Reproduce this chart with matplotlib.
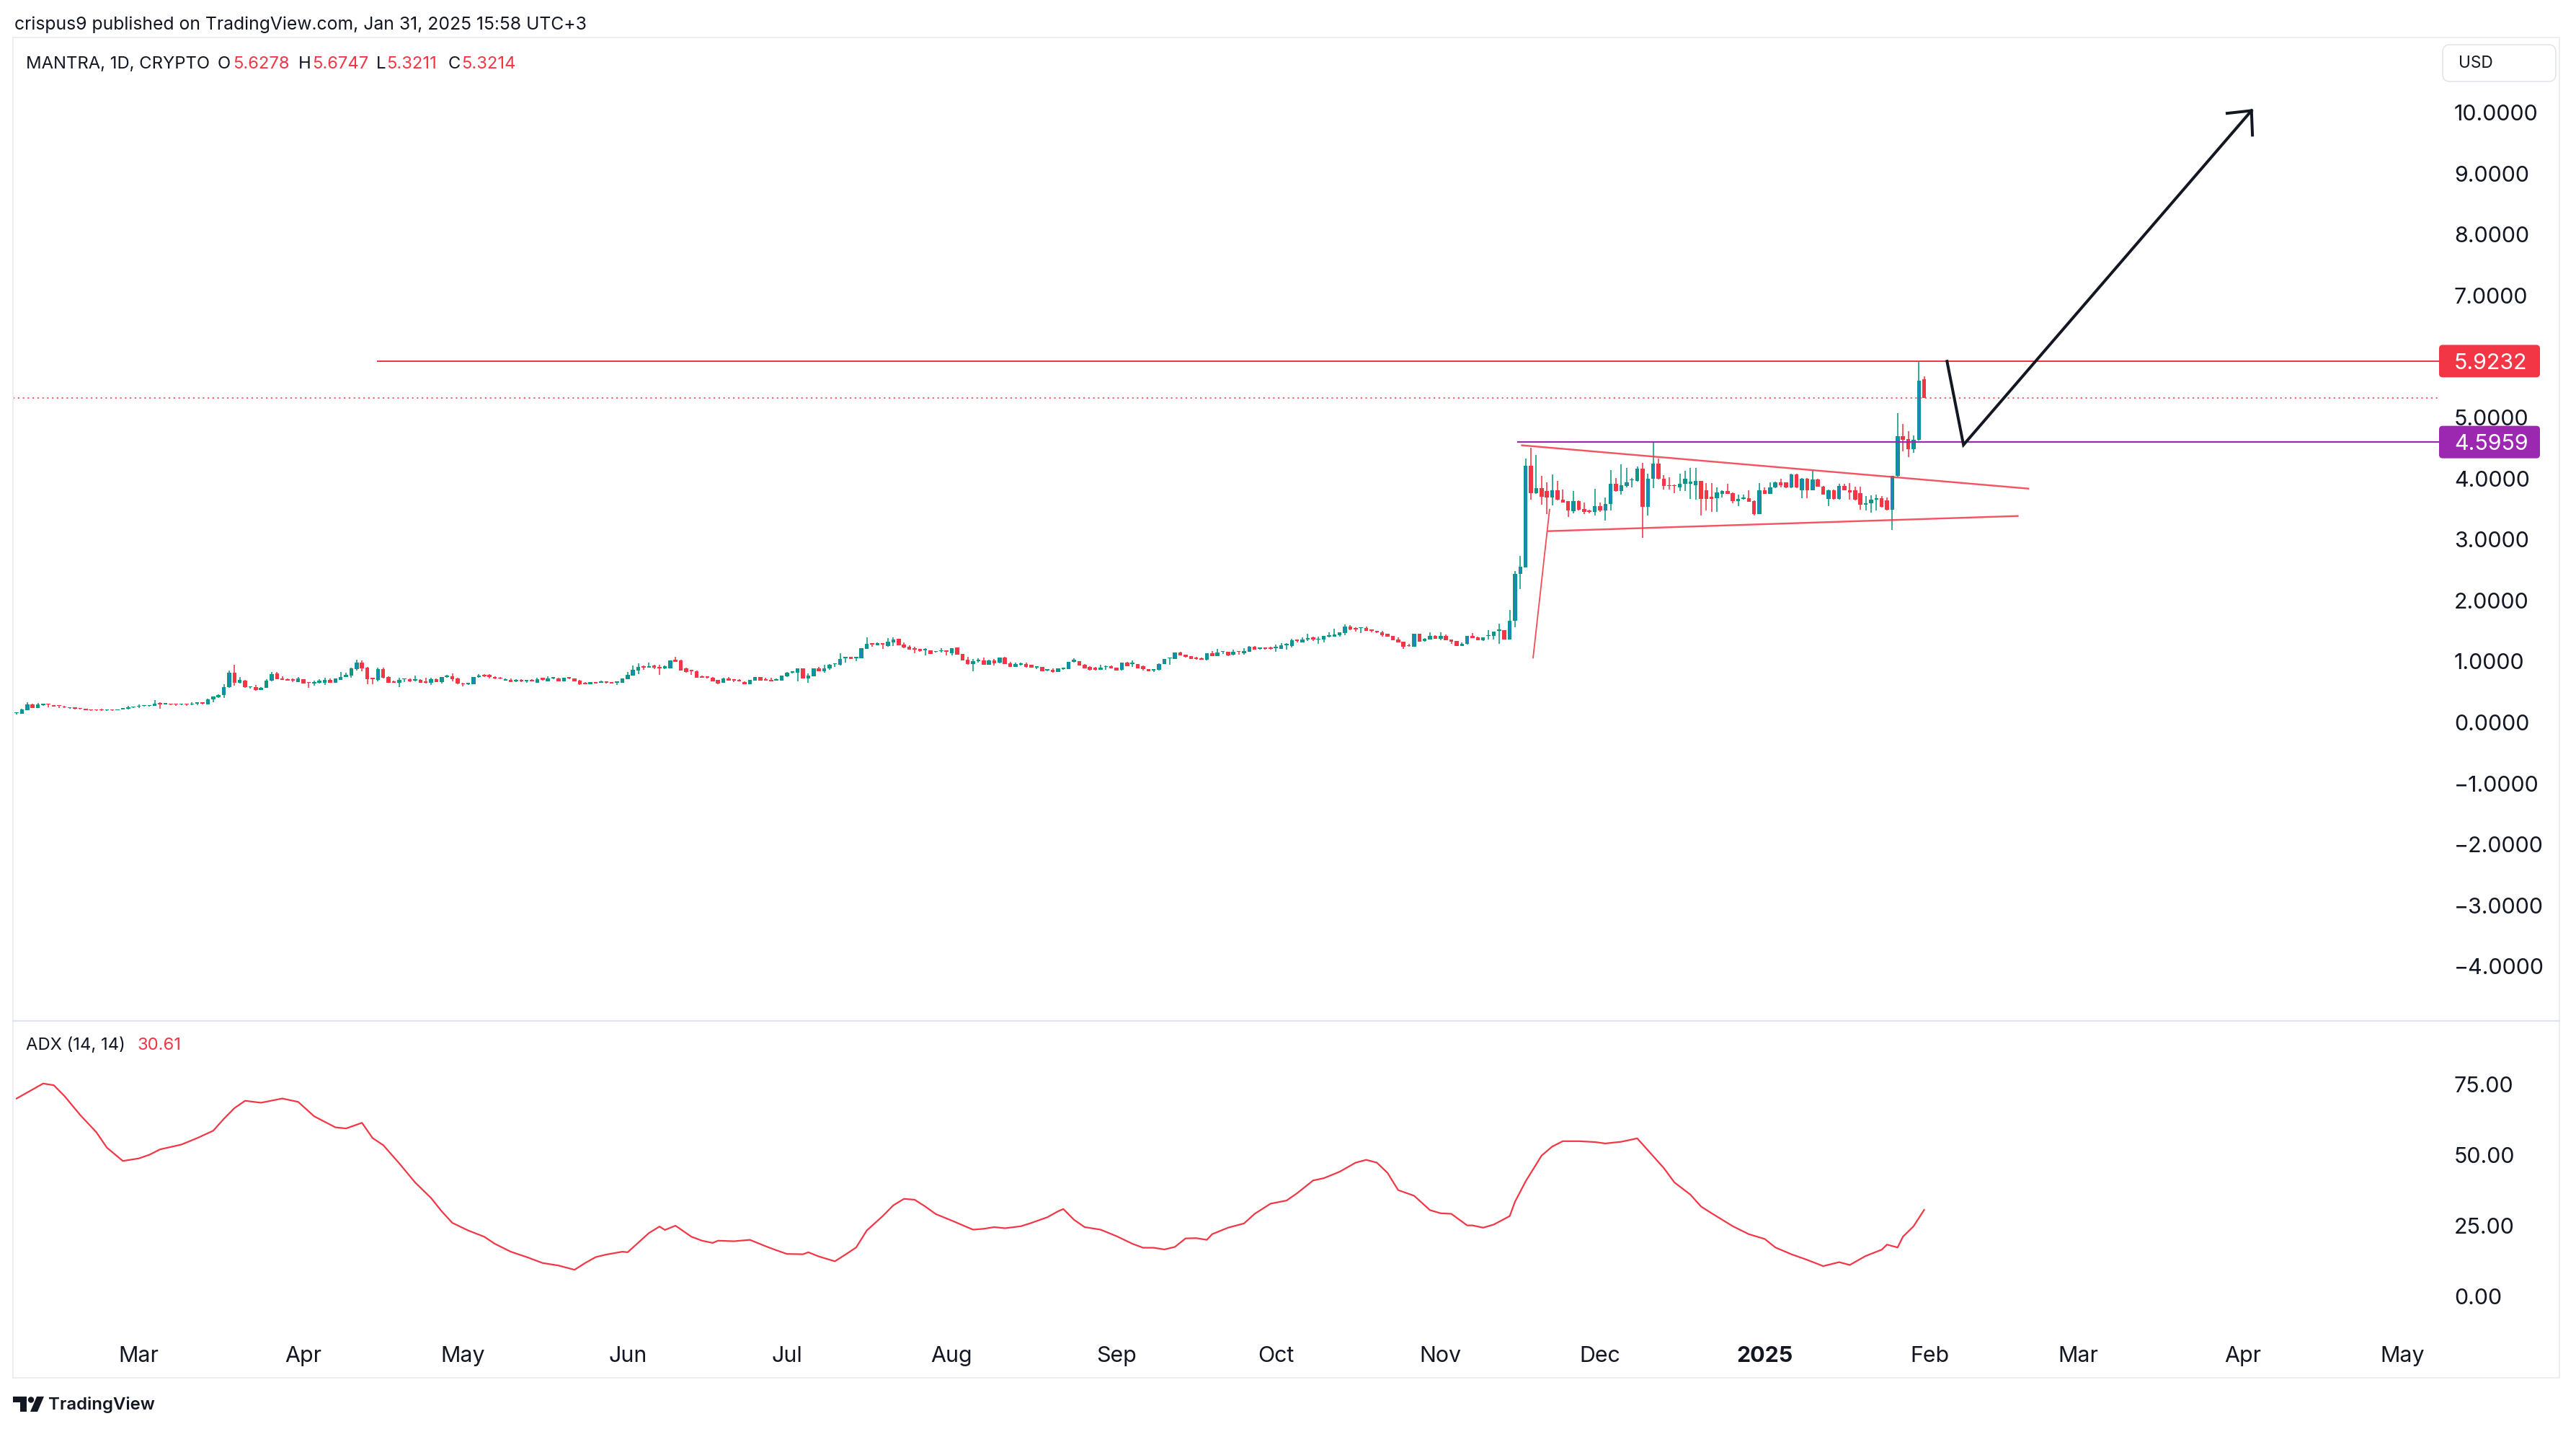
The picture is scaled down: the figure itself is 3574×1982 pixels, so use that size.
import numpy as np
import matplotlib
matplotlib.use("Agg")
import matplotlib.pyplot as plt
from matplotlib.patches import Rectangle, FancyBboxPatch, Circle, Polygon
from matplotlib.transforms import IdentityTransform
from matplotlib.lines import Line2D

plt.rcParams['font.family'] = ['Inter', 'DejaVu Sans']

W, H, DPI = 3574, 1982, 100
PT = 72 / DPI  # points per pixel

UP, DOWN, UP_BODY = '#089981', '#f23645', '#2a7bde'
INK = '#131722'
PURPLE = '#9c27b0'

# ---- daily OHLC, MANTRA 1D, from 2024-02-07 ----
start_date = np.datetime64('2024-02-07')

opens = [
    .150, .146, .200, .295, .240, .285, .300, .280, .280, .265,
    .235, .250, .235, .220, .210, .205, .210, .195, .210, .200,
    .215, .220, .245, .255, .270, .270, .270, .310, .300, .300,
    .300, .290, .300, .290, .305, .325, .300, .380, .410, .450,
    .580, .820, .655, .680, .575, .580, .530, .570, .680, .800,
    .720, .710, .710, .665, .710, .660, .640, .650, .650, .700,
    .655, .700, .745, .770, .880, .980, .900, .730, .700, .870,
    .750, .675, .655, .706, .710, .680, .700, .675, .645, .710,
    .666, .740, .760, .725, .640, .627, .630, .740, .785, .776,
    .750, .737, .690, .700, .678, .700, .674, .700, .654, .730,
    .678, .717, .725, .678, .740, .720, .690, .654, .630, .660,
    .654, .670, .662, .654, .654, .714, .772, .850, .926, .900,
    .930, .910, .883, .887, 1.030, 1.020, .883, .852, .843, .760,
    .753, .737, .694, .650, .720, .706, .700, .666, .627, .690,
    .740, .714, .700, .690, .690, .757, .820, .820, .887, .725,
    .760, .887, .843, .883, .955, .950, 1.050, 1.070, 1.056, 1.056,
    1.206, 1.297, 1.270, 1.285, 1.253, 1.316, 1.370, 1.280, 1.245, 1.214,
    1.200, 1.182, 1.182, 1.155, 1.167, 1.182, 1.139, 1.226, 1.123, 1.025,
    .958, 1.000, 1.017, .946, 1.021, .977, 1.064, .974, .915, .950,
    .962, .942, .899, .907, .850, .863, .832, .871, .879, .993,
    1.005, .950, .907, .899, .863, .907, .926, .899, .860, .985,
    .954, .958, .918, .875, .852, .860, .958, 1.050, 1.044, 1.150,
    1.107, 1.087, 1.068, 1.056, 1.028, 1.135, 1.091, 1.155, 1.155, 1.107,
    1.170, 1.135, 1.162, 1.245, 1.210, 1.226, 1.226, 1.214, 1.210, 1.260,
    1.257, 1.360, 1.316, 1.363, 1.391, 1.355, 1.355, 1.410, 1.410, 1.434,
    1.470, 1.576, 1.552, 1.545, 1.552, 1.521, 1.497, 1.482, 1.450, 1.418,
    1.363, 1.324, 1.269, 1.245, 1.450, 1.332, 1.363, 1.422, 1.371, 1.418,
    1.355, 1.336, 1.257, 1.285, 1.418, 1.399, 1.344, 1.414, 1.414, 1.505,
    1.513, 1.363, 1.663, 2.435, 2.545, 4.210, 3.760, 3.840, 3.790, 3.690,
    3.810, 3.650, 3.625, 3.460, 3.630, 3.500, 3.480, 3.450, 3.550, 3.470,
    3.580, 3.910, 3.790, 3.880, 3.970, 3.960, 4.160, 3.530, 3.990, 4.240,
    4.000, 3.885, 3.890, 3.850, 3.910, 3.910, 3.890, 3.960, 3.810, 3.700,
    3.670, 3.750, 3.790, 3.760, 3.630, 3.660, 3.680, 3.630, 3.420, 3.810,
    3.750, 3.850, 3.940, 3.930, 3.850, 4.070, 3.810, 4.000, 3.810, 3.980,
    3.870, 3.660, 3.810, 3.660, 3.880, 3.810, 3.810, 3.760, 3.570, 3.590,
    3.650, 3.680, 3.640, 3.490, 4.040, 4.690, 4.640, 4.480, 4.630, 5.6278,
]
highs = [
    .170, .225, .330, .310, .320, .310, .305, .285, .285, .270,
    .250, .252, .238, .222, .212, .207, .230, .212, .212, .217,
    .222, .270, .262, .290, .278, .278, .370, .325, .305, .302,
    .302, .302, .302, .330, .335, .328, .390, .430, .460, .630,
    .850, .940, .745, .700, .595, .610, .575, .710, .830, .830,
    .760, .715, .720, .740, .712, .665, .685, .710, .730, .720,
    .720, .830, .810, .900, 1.030, 1.020, .910, .735, .900, .900,
    .755, .680, .733, .722, .725, .765, .705, .733, .733, .725,
    .750, .784, .804, .733, .645, .655, .745, .797, .790, .797,
    .760, .740, .725, .720, .713, .704, .698, .704, .733, .734,
    .757, .744, .730, .737, .744, .724, .694, .658, .666, .664,
    .686, .674, .666, .674, .721, .830, .934, .966, .930, .980,
    .946, .946, .930, 1.017, 1.076, 1.024, .899, .856, .847, .764,
    .757, .741, .698, .729, .745, .710, .704, .670, .702, .744,
    .744, .733, .733, .725, .769, .830, .844, .887, .891, .800,
    .891, .910, .946, .962, .974, 1.135, 1.074, 1.074, 1.080, 1.218,
    1.395, 1.301, 1.310, 1.289, 1.383, 1.395, 1.374, 1.310, 1.269, 1.240,
    1.204, 1.214, 1.186, 1.171, 1.218, 1.186, 1.222, 1.230, 1.127, 1.076,
    1.040, 1.050, 1.064, 1.025, 1.040, 1.064, 1.076, .990, .977, .978,
    .981, .946, .919, .911, .875, .883, .887, .899, .997, 1.056,
    1.009, .954, .922, .915, .946, .934, .930, .903, .985, .989,
    1.017, .962, .934, .879, .875, .966, 1.040, 1.064, 1.147, 1.154,
    1.111, 1.091, 1.080, 1.060, 1.134, 1.170, 1.200, 1.174, 1.159, 1.190,
    1.174, 1.218, 1.249, 1.249, 1.230, 1.230, 1.240, 1.277, 1.300, 1.300,
    1.375, 1.364, 1.395, 1.454, 1.407, 1.403, 1.422, 1.478, 1.537, 1.482,
    1.608, 1.596, 1.556, 1.564, 1.572, 1.525, 1.501, 1.497, 1.454, 1.422,
    1.391, 1.328, 1.288, 1.454, 1.454, 1.383, 1.474, 1.426, 1.474, 1.442,
    1.359, 1.340, 1.308, 1.418, 1.462, 1.403, 1.399, 1.510, 1.494, 1.615,
    1.517, 1.840, 2.478, 2.730, 4.320, 4.500, 4.380, 4.040, 3.940, 4.060,
    3.960, 3.820, 3.630, 3.790, 3.635, 3.610, 3.485, 3.830, 3.610, 3.690,
    4.140, 4.010, 4.230, 4.170, 4.010, 4.190, 4.260, 4.080, 4.610, 4.320,
    4.050, 4.020, 3.895, 4.080, 4.120, 4.170, 4.170, 3.965, 3.920, 3.920,
    3.850, 3.810, 3.910, 3.765, 3.730, 3.730, 3.810, 3.635, 3.920, 3.850,
    3.940, 3.945, 3.990, 3.935, 4.075, 4.075, 4.005, 4.005, 4.120, 4.000,
    3.875, 3.815, 3.815, 3.910, 3.910, 3.920, 3.870, 3.870, 3.710, 3.720,
    3.730, 3.710, 3.690, 4.045, 5.070, 4.890, 4.770, 4.700, 5.9232, 5.6747,
]
lows = [
    .135, .142, .200, .235, .235, .270, .250, .260, .240, .240,
    .220, .215, .218, .195, .193, .193, .192, .193, .193, .198,
    .213, .210, .240, .240, .265, .265, .268, .230, .295, .288,
    .270, .288, .275, .280, .280, .300, .298, .330, .400, .400,
    .570, .600, .640, .570, .550, .525, .528, .565, .675, .705,
    .695, .685, .665, .660, .635, .570, .605, .635, .620, .650,
    .650, .695, .740, .730, .850, .840, .630, .630, .675, .725,
    .650, .650, .583, .666, .662, .675, .645, .640, .620, .660,
    .643, .735, .678, .630, .595, .620, .625, .735, .750, .725,
    .712, .712, .686, .662, .666, .666, .654, .674, .650, .682,
    .674, .713, .674, .674, .710, .674, .615, .626, .626, .639,
    .650, .643, .639, .620, .650, .710, .768, .797, .867, .896,
    .880, .784, .879, .883, .993, .848, .816, .780, .729, .733,
    .722, .674, .623, .646, .686, .666, .674, .626, .623, .686,
    .686, .686, .670, .686, .686, .740, .800, .678, .721, .654,
    .756, .839, .820, .867, .915, .938, .977, 1.041, 1.010, 1.052,
    1.202, 1.245, 1.266, 1.206, 1.240, 1.257, 1.261, 1.222, 1.190, 1.135,
    1.163, 1.100, 1.123, 1.151, 1.147, 1.100, 1.100, 1.111, 1.013, .946,
    .840, .980, .942, .942, .934, .973, .958, .906, .911, .938,
    .899, .895, .879, .839, .840, .816, .828, .863, .875, .981,
    .930, .883, .856, .852, .859, .863, .887, .848, .856, .918,
    .910, .887, .852, .839, .832, .856, .954, .950, 1.040, 1.099,
    1.064, 1.040, 1.028, 1.029, 1.017, 1.087, 1.087, 1.127, 1.091, 1.100,
    1.115, 1.115, 1.158, 1.194, 1.198, 1.196, 1.196, 1.159, 1.206, 1.198,
    1.230, 1.312, 1.312, 1.336, 1.336, 1.288, 1.316, 1.400, 1.406, 1.410,
    1.434, 1.517, 1.494, 1.470, 1.501, 1.478, 1.470, 1.407, 1.403, 1.348,
    1.312, 1.210, 1.246, 1.241, 1.320, 1.328, 1.359, 1.371, 1.352, 1.348,
    1.292, 1.249, 1.253, 1.281, 1.383, 1.344, 1.340, 1.363, 1.355, 1.292,
    1.356, 1.359, 1.560, 2.183, 2.540, 3.650, 3.750, 3.570, 3.410, 3.560,
    3.640, 3.600, 3.365, 3.430, 3.470, 3.410, 3.430, 3.390, 3.450, 3.310,
    3.470, 3.785, 3.730, 3.850, 3.850, 3.950, 3.030, 3.390, 3.840, 3.985,
    3.820, 3.820, 3.760, 3.790, 3.790, 3.660, 3.650, 3.390, 3.470, 3.450,
    3.450, 3.690, 3.745, 3.590, 3.550, 3.650, 3.615, 3.390, 3.415, 3.745,
    3.745, 3.840, 3.850, 3.845, 3.845, 3.845, 3.670, 3.670, 3.805, 3.865,
    3.735, 3.550, 3.655, 3.655, 3.805, 3.650, 3.645, 3.490, 3.480, 3.440,
    3.480, 3.525, 3.480, 3.160, 4.020, 4.440, 4.350, 4.420, 4.625, 5.3211,
]
closes = [
    .165, .213, .290, .240, .290, .300, .290, .265, .270, .245,
    .245, .225, .220, .200, .195, .195, .195, .210, .195, .215,
    .220, .250, .260, .275, .275, .275, .310, .300, .302, .290,
    .290, .300, .290, .310, .325, .310, .380, .420, .450, .580,
    .820, .650, .695, .575, .590, .530, .570, .680, .790, .710,
    .700, .690, .680, .715, .640, .645, .665, .680, .700, .655,
    .715, .750, .780, .890, .980, .890, .710, .710, .870, .730,
    .655, .655, .700, .720, .674, .710, .650, .647, .705, .666,
    .745, .770, .710, .635, .623, .650, .740, .765, .757, .740,
    .717, .717, .714, .666, .700, .678, .694, .678, .710, .700,
    .725, .740, .678, .733, .720, .678, .623, .630, .662, .643,
    .674, .647, .643, .670, .717, .780, .860, .907, .900, .926,
    .900, .890, .922, 1.013, .997, .852, .832, .840, .733, .737,
    .733, .678, .640, .725, .690, .682, .678, .630, .698, .740,
    .690, .690, .674, .714, .765, .812, .840, .883, .725, .765,
    .887, .843, .891, .950, .970, 1.036, 1.070, 1.045, 1.076, 1.214,
    1.285, 1.280, 1.300, 1.277, 1.324, 1.364, 1.265, 1.226, 1.194, 1.194,
    1.167, 1.198, 1.127, 1.167, 1.186, 1.159, 1.218, 1.115, 1.017, .958,
    1.005, 1.025, .946, 1.021, .970, 1.060, .962, .910, .962, .974,
    .910, .899, .915, .843, .871, .824, .883, .895, .993, 1.025,
    .934, .887, .860, .860, .899, .926, .891, .852, .981, .922,
    .977, .891, .879, .843, .871, .962, 1.036, 1.056, 1.143, 1.103,
    1.076, 1.044, 1.040, 1.033, 1.130, 1.091, 1.147, 1.170, 1.103, 1.159,
    1.155, 1.170, 1.245, 1.198, 1.226, 1.200, 1.200, 1.237, 1.269, 1.285,
    1.348, 1.336, 1.363, 1.383, 1.360, 1.371, 1.418, 1.434, 1.446, 1.478,
    1.572, 1.521, 1.525, 1.560, 1.505, 1.500, 1.474, 1.430, 1.407, 1.352,
    1.316, 1.245, 1.250, 1.450, 1.324, 1.371, 1.414, 1.375, 1.418, 1.352,
    1.324, 1.253, 1.285, 1.414, 1.387, 1.348, 1.395, 1.430, 1.490, 1.517,
    1.360, 1.663, 2.435, 2.553, 4.210, 3.760, 3.840, 3.700, 3.690, 3.810,
    3.650, 3.610, 3.470, 3.630, 3.490, 3.450, 3.450, 3.550, 3.470, 3.580,
    3.910, 3.790, 3.885, 3.940, 3.980, 4.160, 3.530, 3.990, 4.240, 3.990,
    3.875, 3.875, 3.875, 3.910, 3.990, 3.945, 3.960, 3.660, 3.660, 3.660,
    3.770, 3.790, 3.750, 3.630, 3.660, 3.690, 3.620, 3.420, 3.810, 3.750,
    3.850, 3.940, 3.890, 3.850, 4.070, 3.850, 4.000, 3.810, 3.980, 3.870,
    3.740, 3.810, 3.660, 3.880, 3.810, 3.770, 3.650, 3.570, 3.590, 3.650,
    3.680, 3.530, 3.490, 4.040, 4.690, 4.630, 4.480, 4.630, 5.600, 5.3214,
]

# ---- ADX (14, 14), read at sample days (day offset from start_date) ----
adx_day = [0, 5, 7, 9, 12, 15, 17, 20, 23, 25, 27, 31, 34, 37, 39, 41, 43, 46, 50, 53,
           56, 60, 62, 65, 67, 69, 72, 75, 78, 80, 82, 85, 88, 90, 93, 96, 99, 102, 105, 107,
           109, 111, 114, 115, 117, 119, 121, 122, 124, 127, 129, 131, 132, 135, 138, 141, 143, 145, 148, 149,
           151, 154, 156, 158, 160, 163, 165, 167, 169, 171, 173, 176, 177, 180, 182, 184, 186, 189, 191, 194,
           196, 197, 199, 201, 204, 207, 210, 212, 214, 216, 218, 220, 222, 224, 225, 228, 231, 233, 236, 239,
           241, 244, 246, 249, 252, 254, 256, 258, 260, 263, 266, 268, 270, 273, 274, 276, 278, 281, 282, 284,
           287, 289, 291, 294, 297, 299, 302, 305, 308, 310, 312, 315, 317, 319, 321, 323, 326, 329, 331, 334,
           337, 340, 343, 345, 348, 351, 352, 354, 355, 357, 359]
adx_val = [70.0, 75.3, 74.7, 70.9, 64.1, 58.1, 52.6, 47.9, 48.8, 50.1, 52.0, 53.7, 56.0, 58.6, 62.8, 66.6, 69.2, 68.5, 70.0, 68.8,
           63.7, 59.8, 59.4, 61.4, 56.0, 53.5, 47.1, 40.3, 34.8, 30.1, 26.0, 23.3, 21.1, 18.6, 15.8, 13.9, 11.8, 10.9, 9.4, 11.8,
           13.9, 14.8, 15.8, 15.6, 19.0, 22.4, 24.7, 23.5, 25.0, 21.1, 19.7, 18.9, 19.7, 19.5, 20.0, 17.7, 16.3, 15.0, 14.9, 15.6,
           14.1, 12.4, 14.8, 17.3, 23.3, 28.4, 32.2, 34.5, 34.2, 31.8, 29.1, 26.8, 26.0, 23.6, 23.9, 24.5, 24.1, 24.8, 26.0, 28.0,
           30.1, 30.9, 27.1, 24.5, 23.6, 21.3, 18.6, 17.2, 17.2, 16.6, 17.5, 20.5, 20.6, 20.0, 22.0, 24.3, 25.8, 29.2, 32.8, 33.9,
           36.5, 41.0, 41.8, 44.1, 47.3, 48.3, 47.3, 43.7, 37.6, 35.6, 30.5, 29.4, 29.2, 25.1, 25.1, 24.3, 25.4, 28.4, 33.5, 40.7,
           49.8, 53.0, 54.9, 54.9, 54.6, 54.1, 54.7, 55.9, 49.6, 45.4, 40.3, 36.0, 31.8, 29.4, 27.1, 24.8, 22.0, 20.3, 17.3, 14.9,
           12.9, 10.7, 12.1, 11.1, 14.3, 16.5, 18.3, 17.3, 21.1, 24.8, 30.61]

# ---- axes labels ----
month_dates = ['2024-03-01', '2024-04-01', '2024-05-01', '2024-06-01', '2024-07-01',
               '2024-08-01', '2024-09-01', '2024-10-01', '2024-11-01', '2024-12-01',
               '2025-01-01', '2025-02-01', '2025-03-01', '2025-04-01', '2025-05-01']
month_labels = ['Mar', 'Apr', 'May', 'Jun', 'Jul', 'Aug', 'Sep', 'Oct', 'Nov', 'Dec',
                '2025', 'Feb', 'Mar', 'Apr', 'May']
price_ticks = [10, 9, 8, 7, 5, 4, 3, 2, 1, 0, -1, -2, -3, -4]
adx_ticks = [0, 25, 50, 75]

# ---- drawings (day offset, price) ----
resistance, res_from = 5.9232, 68
support, sup_from = 4.5959, 282.5
last_close = 5.3214
flag_top_x, flag_top_y = [283.3, 378.6], [4.543, 3.833]
flag_bot_x, flag_bot_y = [288.3, 376.6], [3.136, 3.384]
pole_x, pole_y = [285.4, 288.5], [1.06, 3.49]
path_x, path_y = [363.3, 366.4, 420.6], [5.92, 4.55, 10.03]

o, h, l, c = map(np.array, (opens, highs, lows, closes))
x = np.arange(len(o))
up = c >= o

fig = plt.figure(figsize=(W / DPI, H / DPI), dpi=DPI)
fig.patch.set_facecolor('white')


def fx(px):
    return px / W


def fy(py):
    return 1 - py / H


ax = fig.add_axes([fx(18), fy(1416), fx(3384) - fx(18), fy(52) - fy(1416)])
ax2 = fig.add_axes([fx(18), fy(1840), fx(3384) - fx(18), fy(1416) - fy(1840)], sharex=ax)

XMIN, XMAX = -0.68, 455.9
ax.set_xlim(XMIN, XMAX)
ax.set_ylim(-4.894, 11.229)
ax2.set_ylim(-10.71, 97.45)

# font size for axis labels: "9.0000" about 104 px wide
renderer = fig.canvas.get_renderer()
probe = fig.text(0, 0, '9.0000', fontsize=20)
fs_axis = 20 * 104 / probe.get_window_extent(renderer).width
probe.remove()

for a in (ax, ax2):
    for s in a.spines.values():
        s.set_visible(False)
    a.yaxis.tick_right()
    a.tick_params(axis='y', length=0, pad=21 * PT, labelsize=fs_axis, colors=INK)

ax.set_yticks(price_ticks)
ax.set_yticklabels([f'{v:.4f}'.replace('-', '\u2212') for v in price_ticks])
ax.tick_params(axis='x', length=0, labelbottom=False)
ax2.set_yticks(adx_ticks)
ax2.set_yticklabels([f'{v:.2f}' for v in adx_ticks])

month_pos = [(np.datetime64(m) - start_date).astype(int) for m in month_dates]
ax2.set_xticks(month_pos)
ax2.set_xticklabels(month_labels)
ax2.tick_params(axis='x', length=0, pad=27 * PT, labelsize=fs_axis, colors=INK)
ax2.get_xticklabels()[10].set_fontweight('bold')

# ---- candles ----
px_day = (3384 - 18) / (XMAX - XMIN)
px_y = (1416 - 52) / (11.229 + 4.894)
cols = np.where(up, UP, DOWN)
body_w = 5.5 / px_day
body_lo = np.minimum(o, c)
body_h = np.maximum(np.abs(c - o), 1.5 / px_y)
ax.vlines(x, l, h, colors=cols, linewidth=1.6 * PT, zorder=2)
ax.bar(x, body_h, bottom=body_lo, width=body_w, color=cols, linewidth=0, zorder=3)
inset_x, inset_y = 1.8 / px_day, 1.8 / px_y
inner_h = body_h - 2 * inset_y
m = up & (inner_h > 0)
ax.bar(x[m], inner_h[m], bottom=body_lo[m] + inset_y, width=body_w - 2 * inset_x,
       color=UP_BODY, linewidth=0, zorder=4)

# ---- drawings ----
ax.axhline(last_close, color=DOWN, lw=1.5 * PT, linestyle=(0, (1.5, 3)), zorder=5)
ax.plot([res_from, XMAX], [resistance, resistance], color=DOWN, lw=2 * PT, zorder=6)
ax.plot([sup_from, XMAX], [support, support], color=PURPLE, lw=2.2 * PT, zorder=6)
ax.plot(flag_top_x, flag_top_y, color=DOWN, lw=2.4 * PT, alpha=0.85, zorder=6)
ax.plot(flag_bot_x, flag_bot_y, color=DOWN, lw=2.4 * PT, alpha=0.85, zorder=6)
ax.plot(pole_x, pole_y, color=DOWN, lw=1.8 * PT, alpha=0.9, zorder=6)
ax.plot(path_x, path_y, color=INK, lw=4 * PT, solid_joinstyle='miter', zorder=7)

tip = ax.transData.transform((path_x[-1], path_y[-1]))
prev = ax.transData.transform((path_x[-2], path_y[-2]))
back = (prev - tip) / np.hypot(*(prev - tip))
arms = []
for ang in (np.radians(43), np.radians(-43)):
    rot = np.array([[np.cos(ang), -np.sin(ang)], [np.sin(ang), np.cos(ang)]])
    arms.append(ax.transData.inverted().transform(tip + 36 * rot @ back))
ax.plot([arms[0][0], path_x[-1], arms[1][0]], [arms[0][1], path_y[-1], arms[1][1]],
        color=INK, lw=4 * PT, solid_joinstyle='miter', solid_capstyle='butt', zorder=7)

# ---- ADX ----
ax2.plot(adx_day, adx_val, color=DOWN, lw=2.2 * PT)

# ---- frame, separator ----
fig.add_artist(Rectangle((fx(18), fy(1911)), fx(3551) - fx(18), fy(52) - fy(1911),
                         transform=fig.transFigure, fill=False, edgecolor='#eceef2', lw=2 * PT))
fig.add_artist(Line2D([fx(18), fx(3551)], [fy(1416), fy(1416)], transform=fig.transFigure,
                      color='#e0e3eb', lw=2.2 * PT))

# ---- price badges ----
for price, colr in ((resistance, DOWN), (support, PURPLE)):
    yc = ax.transData.transform((0, price))[1]
    fig.add_artist(FancyBboxPatch((3384, yc - 22.5), 140, 45, boxstyle='round,pad=0,rounding_size=5',
                                  transform=IdentityTransform(), fc=colr, ec='none', zorder=3))
    fig.text(3405, yc, f'{price:.4f}', transform=IdentityTransform(), color='white',
             fontsize=fs_axis, va='center_baseline', ha='left', zorder=4)

fig.add_artist(FancyBboxPatch((3389, H - 113), 157, 51, boxstyle='round,pad=0,rounding_size=10',
                              transform=IdentityTransform(), fc='white', ec='#e0e3eb', lw=1.5 * PT, zorder=3))
usd = fig.text(3411, H - 88, 'USD', transform=IdentityTransform(), color=INK, fontsize=16,
               va='center', ha='left', zorder=4)


def fit(t, target):
    w = t.get_window_extent(renderer).width
    t.set_fontsize(t.get_fontsize() * target / w)


fit(usd, 48)

# ---- header and legends ----
hdr = fig.text(20, H - 34, 'crispus9 published on TradingView.com, Jan 31, 2025 15:58 UTC+3',
               transform=IdentityTransform(), color=INK, fontsize=17, va='center', ha='left')
fit(hdr, 795)

leg = fig.text(36, H - 89, 'MANTRA, 1D, CRYPTO', transform=IdentityTransform(), color=INK,
               fontsize=16, va='center', ha='left')
fit(leg, 255)
fs_leg = leg.get_fontsize()
for xpos, s, colr in ((302, 'O', INK), (323, '5.6278', DOWN), (414, 'H', INK), (433, '5.6747', DOWN),
                      (522, 'L', INK), (536, '5.3211', DOWN), (622, 'C', INK), (640, '5.3214', DOWN)):
    fig.text(xpos, H - 89, s, transform=IdentityTransform(), color=colr, fontsize=fs_leg,
             va='center', ha='left')

adx_leg = fig.text(36, H - 1450, 'ADX (14, 14)', transform=IdentityTransform(), color=INK,
                   fontsize=16, va='center', ha='left')
fit(adx_leg, 138)
fig.text(191, H - 1450, '30.61', transform=IdentityTransform(), color=DOWN,
         fontsize=adx_leg.get_fontsize(), va='center', ha='left')

# ---- TradingView logo ----
fig.add_artist(Polygon([(18, H - 1937), (37, H - 1937), (37, H - 1958), (28, H - 1958),
                        (28, H - 1945), (18, H - 1945)], closed=True,
                       transform=IdentityTransform(), fc=INK, ec='none'))
fig.add_artist(Circle((43, H - 1941.5), 4.2, transform=IdentityTransform(), fc=INK, ec='none'))
fig.add_artist(Polygon([(51, H - 1937), (61, H - 1937), (52, H - 1958), (42, H - 1958)], closed=True,
                       transform=IdentityTransform(), fc=INK, ec='none'))
tv = fig.text(67, H - 1949, 'TradingView', transform=IdentityTransform(), color=INK,
              fontsize=17, fontweight='semibold', va='center', ha='left')
fit(tv, 148)

fig.savefig('out.png', dpi=DPI, facecolor='white')
